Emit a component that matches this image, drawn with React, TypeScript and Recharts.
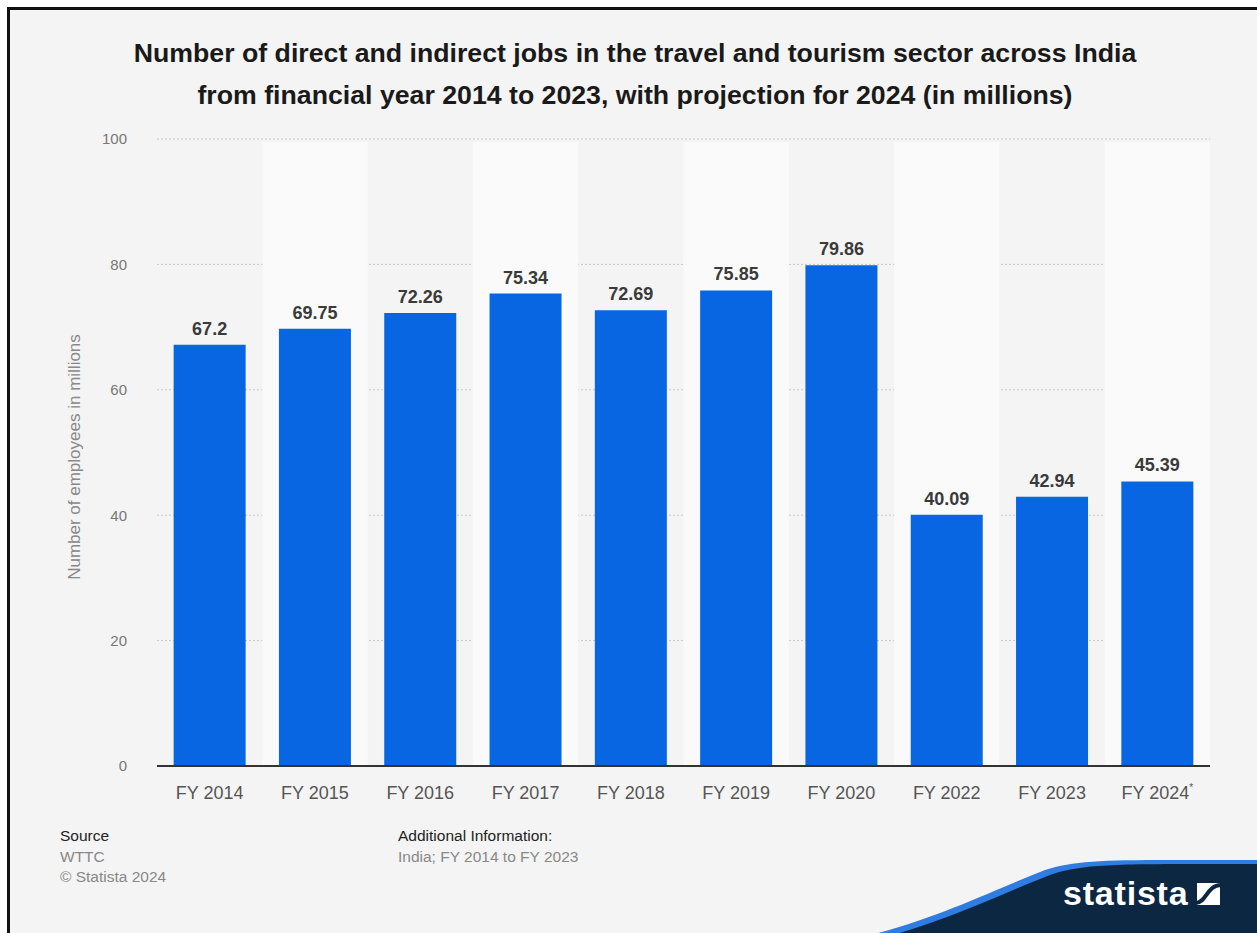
import React from "react";
import {
  BarChart,
  Bar,
  XAxis,
  YAxis,
  CartesianGrid,
  ReferenceArea,
  LabelList,
} from "recharts";

const categories = [
  "FY 2014",
  "FY 2015",
  "FY 2016",
  "FY 2017",
  "FY 2018",
  "FY 2019",
  "FY 2020",
  "FY 2022",
  "FY 2023",
  "FY 2024*",
];
const jobs = [67.2, 69.75, 72.26, 75.34, 72.69, 75.85, 79.86, 40.09, 42.94, 45.39];
const yTicks = [0, 20, 40, 60, 80, 100];

const font = "'Liberation Sans', Arial, sans-serif";
const barBlue = "#0866e3";
const navy = "#0c2742";

const data = categories.map((name, i) => ({ name, value: jobs[i] }));

// every second category gets the lighter column behind it
const lightBands = categories.filter((_, i) => i % 2 === 1);

function XTick(props: any) {
  const { x, y, payload } = props;
  const label: string = payload.value;
  const star = label.endsWith("*");
  return (
    <text
      x={x}
      y={y}
      dy={33}
      textAnchor="middle"
      fill="#555"
      fontSize={18}
      fontFamily={font}
    >
      {star ? label.slice(0, -1) : label}
      {star && (
        <tspan fontSize={10} dy={-8}>
          *
        </tspan>
      )}
    </text>
  );
}

export default function App() {
  return (
    <div
      style={{
        position: "absolute",
        left: 0,
        top: 0,
        width: 1257,
        height: 933,
        background: "#fff",
        overflow: "hidden",
        fontFamily: font,
      }}
    >
      {/* framed panel */}
      <div
        style={{
          position: "absolute",
          left: 7,
          top: 7,
          width: 1250,
          height: 926,
          background: "#f4f4f4",
          borderTop: "3px solid #111",
          borderLeft: "3px solid #111",
          boxSizing: "border-box",
        }}
      />

      <div
        style={{
          position: "absolute",
          left: 10,
          top: 32,
          width: 1250,
          textAlign: "center",
          fontSize: 26.7,
          fontWeight: "bold",
          lineHeight: "42px",
          color: "#1a1a1a",
        }}
      >
        Number of direct and indirect jobs in the travel and tourism sector across India
        <br />
        from financial year 2014 to 2023, with projection for 2024 (in millions)
      </div>

      <div style={{ position: "absolute", left: 0, top: 0 }}>
        <BarChart
          width={1257}
          height={933}
          data={data}
          margin={{ top: 139, right: 47, bottom: 127, left: 97 }}
          barCategoryGap="15.8%"
        >
          {lightBands.map((c) => (
            <ReferenceArea
              key={c}
              x1={c}
              x2={c}
              y1={0}
              y2={99.5}
              fill="#fafafa"
              fillOpacity={1}
              stroke="none"
            />
          ))}
          <CartesianGrid
            vertical={false}
            stroke="#c8c8c8"
            strokeDasharray="2 2"
          />
          <XAxis
            dataKey="name"
            height={40}
            tick={<XTick />}
            tickLine={false}
            tickSize={0}
            tickMargin={0}
            axisLine={{ stroke: "#333", strokeWidth: 2 }}
          />
          <YAxis
            width={60}
            domain={[0, 100]}
            ticks={yTicks}
            axisLine={false}
            tickLine={false}
            tickSize={0}
            tickMargin={30}
            tick={{ fill: "#777", fontSize: 15, fontFamily: font }}
          />
          <Bar dataKey="value" fill={barBlue} isAnimationActive={false}>
            <LabelList
              dataKey="value"
              position="top"
              offset={10}
              fill="#3a3a3a"
              fontSize={18}
              fontWeight="bold"
              fontFamily={font}
            />
          </Bar>
        </BarChart>
      </div>

      <div
        style={{
          position: "absolute",
          left: 75,
          top: 457,
          transform: "translate(-50%, -50%) rotate(-90deg)",
          whiteSpace: "nowrap",
          fontSize: 17,
          color: "#888",
        }}
      >
        Number of employees in millions
      </div>

      {/* footer */}
      <div
        style={{
          position: "absolute",
          left: 60,
          top: 826,
          fontSize: 15.5,
          lineHeight: "20.5px",
          color: "#888",
        }}
      >
        <div style={{ color: "#222" }}>Source</div>
        <div>WTTC</div>
        <div>© Statista 2024</div>
      </div>
      <div
        style={{
          position: "absolute",
          left: 398,
          top: 826,
          fontSize: 15.5,
          lineHeight: "20.5px",
          color: "#888",
        }}
      >
        <div style={{ color: "#222" }}>Additional Information:</div>
        <div>India; FY 2014 to FY 2023</div>
      </div>

      {/* statista logo band */}
      <svg
        width={1257}
        height={933}
        style={{ position: "absolute", left: 0, top: 0, pointerEvents: "none" }}
      >
        <path
          d="M 825 945 C 920 928, 985 893, 1045 870 C 1082 858, 1120 860, 1257 860 L 1257 933 L 825 933 Z"
          fill="#2f7de1"
        />
        <path
          d="M 840 948 C 930 930, 990 898, 1050 875 C 1085 863, 1120 864, 1257 864 L 1257 933 L 840 933 Z"
          fill={navy}
        />
        <text
          x={1063}
          y={905}
          fill="#fff"
          fontSize={34}
          fontWeight="bold"
          fontFamily={font}
          letterSpacing={0.8}
        >
          statista
        </text>
        <rect x={1197} y={883} width={23} height={22} fill="#fff" />
        <path
          d="M 1196 903 C 1206 903, 1207 885, 1221 885"
          stroke={navy}
          strokeWidth={4}
          fill="none"
        />
      </svg>
    </div>
  );
}
